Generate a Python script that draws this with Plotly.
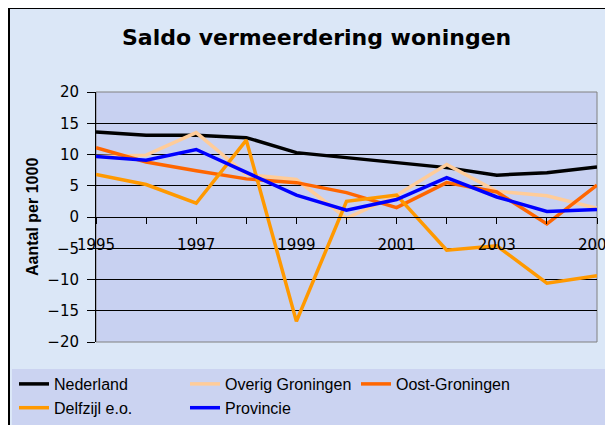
import plotly.graph_objects as go

# ---------------- data ----------------
years = [1995, 1996, 1997, 1998, 1999, 2000, 2001, 2002, 2003, 2004, 2005]
year_labels = ["1995", "", "1997", "", "1999", "", "2001", "", "2003", "", "2005"]

nederland = [13.6, 13.1, 13.1, 12.7, 10.3, 9.5, 8.8, 7.9, 6.7, 7.1, 8.0]
overig_groningen = [9.7, 9.9, 13.5, 6.8, 6.0, -0.2, 3.5, 8.4, 4.1, 3.4, 1.4]
oost_groningen = [11.1, 8.8, 7.4, 6.1, 5.5, 3.9, 1.5, 5.5, 4.0, -1.1, 5.1]
delfzijl = [6.8, 5.2, 2.2, 12.3, -16.7, 2.5, 3.5, -5.3, -4.6, -10.6, -9.4]
provincie = [9.7, 9.1, 10.8, 7.2, 3.5, 1.1, 2.8, 6.3, 3.2, 0.9, 1.2]

series_names = ["Nederland", "Overig Groningen", "Oost-Groningen", "Delfzijl e.o.", "Provincie"]
series_values = [nederland, overig_groningen, oost_groningen, delfzijl, provincie]
series_colors = ["#000000", "#FFCC99", "#FF6600", "#FF9900", "#0000FF"]

y_ticks = [-20, -15, -10, -5, 0, 5, 10, 15, 20]

# ---------------- layout geometry (figure sits at 8px page offset) ----------------
W, H = 613, 417
ML, MT = 88, 84
PW, PH = 501, 250
MR = W - ML - PW
MB = H - MT - PH


def px_x(p):
    return (p - ML) / PW


def px_y(p):
    return (H - MB - p) / PH


FONT = "Liberation Sans, Arial, sans-serif"
WIDE = "DejaVu Sans, Verdana, sans-serif"

fig = go.Figure()
for name, vals, col in zip(series_names, series_values, series_colors):
    fig.add_trace(go.Scatter(
        x=years, y=vals, name=name, mode="lines",
        line=dict(color=col, width=3.5),
    ))

shapes = [
    # chart area frame (left/top edges visible)
    dict(type="rect", xref="paper", yref="paper", layer="below",
         x0=px_x(1), x1=px_x(700), y0=px_y(470), y1=px_y(0),
         fillcolor="#dbe7f7", line=dict(color="#000000", width=2)),
    # plot area
    dict(type="rect", xref="paper", yref="paper", layer="below",
         x0=0, x1=1, y0=0, y1=1,
         fillcolor="#c8d1f1", line=dict(color="#808080", width=1)),
    # legend area
    dict(type="rect", xref="paper", yref="paper", layer="below",
         x0=px_x(4), x1=px_x(700), y0=px_y(470), y1=px_y(361),
         fillcolor="#cbd3f1", line=dict(width=0)),
]

fig.update_layout(
    width=W, height=H,
    margin=dict(l=ML, r=MR, t=MT, b=MB, pad=0, autoexpand=False),
    paper_bgcolor="#dbe7f7",
    plot_bgcolor="rgba(0,0,0,0)",
    font=dict(family=FONT, size=16, color="#000000"),
    shapes=shapes,
    showlegend=True,
    legend=dict(
        orientation="h", xref="paper", yref="paper",
        x=px_x(6), y=px_y(359), xanchor="left", yanchor="top",
        entrywidth=126, entrywidthmode="pixels",
        bgcolor="rgba(0,0,0,0)", itemwidth=30,
        font=dict(family=FONT, size=16, color="#000000"),
        traceorder="normal",
    ),
    annotations=[
        dict(text="<b>Saldo vermeerdering woningen</b>", xref="paper", yref="paper",
             x=px_x(308.5), y=px_y(29), xanchor="center", yanchor="middle",
             showarrow=False, font=dict(family=WIDE, size=22, color="#000000")),
        dict(text="<b>Aantal per 1000</b>", xref="paper", yref="paper",
             x=px_x(24), y=0.5, xanchor="center", yanchor="middle", textangle=-90,
             showarrow=False, font=dict(family=FONT, size=16, color="#000000")),
    ],
    xaxis=dict(
        range=[1995, 2005], anchor="free", position=0.5,
        tickmode="array", tickvals=years, ticktext=year_labels,
        showgrid=False, zeroline=False,
        showline=True, linecolor="#000000", linewidth=1,
        ticks="outside", ticklen=6, tickcolor="#000000", tickwidth=1,
        ticklabelstandoff=8,
        tickfont=dict(family=WIDE, size=15, color="#000000"),
    ),
    yaxis=dict(
        range=[-20, 20], tickmode="array", tickvals=y_ticks,
        showgrid=True, gridcolor="#000000", gridwidth=1,
        zeroline=True, zerolinecolor="#000000", zerolinewidth=1,
        showline=True, linecolor="#000000", linewidth=1,
        ticks="outside", ticklen=8, tickcolor="#000000", tickwidth=1,
        ticklabelstandoff=5,
        tickfont=dict(family=WIDE, size=15, color="#000000"),
    ),
)

fig.write_html("out.html")
